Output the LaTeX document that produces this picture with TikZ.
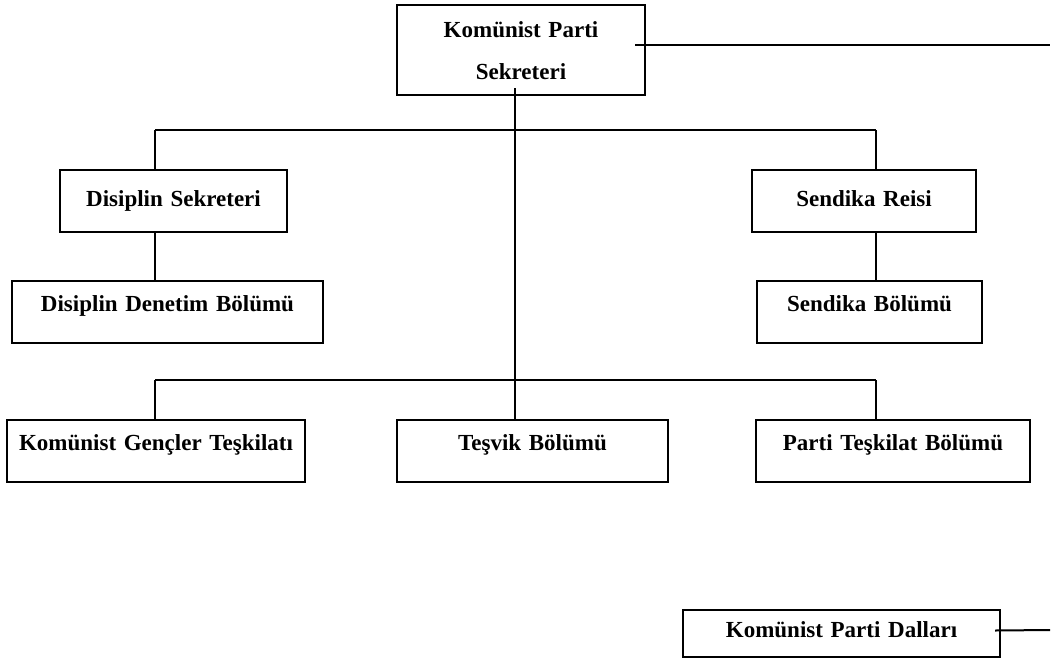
\documentclass[tikz,border=0pt]{standalone}
\usepackage{fontspec}
\setmainfont{Liberation Serif}
\usetikzlibrary{calc}
\begin{document}
\begin{tikzpicture}[x=1pt,y=-1pt,
  unit/.style={draw, line width=2.2pt, inner sep=0pt, outer sep=0pt,
    anchor=north west, align=center,
    font=\fontsize{23}{42}\selectfont\bfseries},
  link/.style={line width=2pt}]
\useasboundingbox (0,0) rectangle (1064,659);

% boxes
\node[unit, text width=248pt, text height=32pt, text depth=58pt] (sec) at (397,5)
  {Komünist Parti\\Sekreteri};
\node[unit, text width=227pt, text height=36pt, text depth=26pt] (ds) at (60,170)
  {Disiplin Sekreteri};
\node[unit, text width=311pt, text height=30pt, text depth=32pt] (dd) at (12,281)
  {Disiplin Denetim Bölümü};
\node[unit, text width=224pt, text height=36pt, text depth=26pt] (sr) at (752,170)
  {Sendika Reisi};
\node[unit, text width=225pt, text height=30pt, text depth=32pt] (sb) at (757,281)
  {Sendika Bölümü};
\node[unit, text width=298pt, text height=30pt, text depth=32pt] (kg) at (7,420)
  {Komünist Gençler Teşkilatı};
\node[unit, text width=271pt, text height=30pt, text depth=32pt] (tb) at (397,420)
  {Teşvik Bölümü};
\node[unit, text width=274pt, text height=30pt, text depth=32pt] (pt) at (756,420)
  {Parti Teşkilat Bölümü};
\node[unit, text width=317pt, text height=27pt, text depth=20pt] (kd) at (683,610)
  {Komünist Parti Dalları};

% junction points
\coordinate (stem) at ($(sec.south)+(-6,-7)$);
\coordinate (outR) at ($(sec.north east)+(-10,40)$);
\coordinate (outEnd) at (1050,45);
\coordinate (dalR) at ($(kd.east)+(-5,-3)$);
\coordinate (dalEnd) at (1050,630);
\coordinate (busA) at (155,130);
\coordinate (busB) at (876,130);
\coordinate (busC) at (155,380);
\coordinate (busD) at (876,380);

% connectors
\draw[link] (outR) -- (outEnd);
\draw[link] (dalR) -- (dalEnd);
\draw[link] (stem) -- (stem |- tb.north);
\draw[link] (busA) -- (busB);
\draw[link] (busA) -- (busA |- ds.north);
\draw[link] (busB) -- (busB |- sr.north);
\draw[link] (ds.south -| busA) -- (busA |- dd.north);
\draw[link] (sr.south -| busB) -- (busB |- sb.north);
\draw[link] (busC) -- (busD);
\draw[link] (busC) -- (busC |- kg.north);
\draw[link] (busD) -- (busD |- pt.north);
\end{tikzpicture}
\end{document}
